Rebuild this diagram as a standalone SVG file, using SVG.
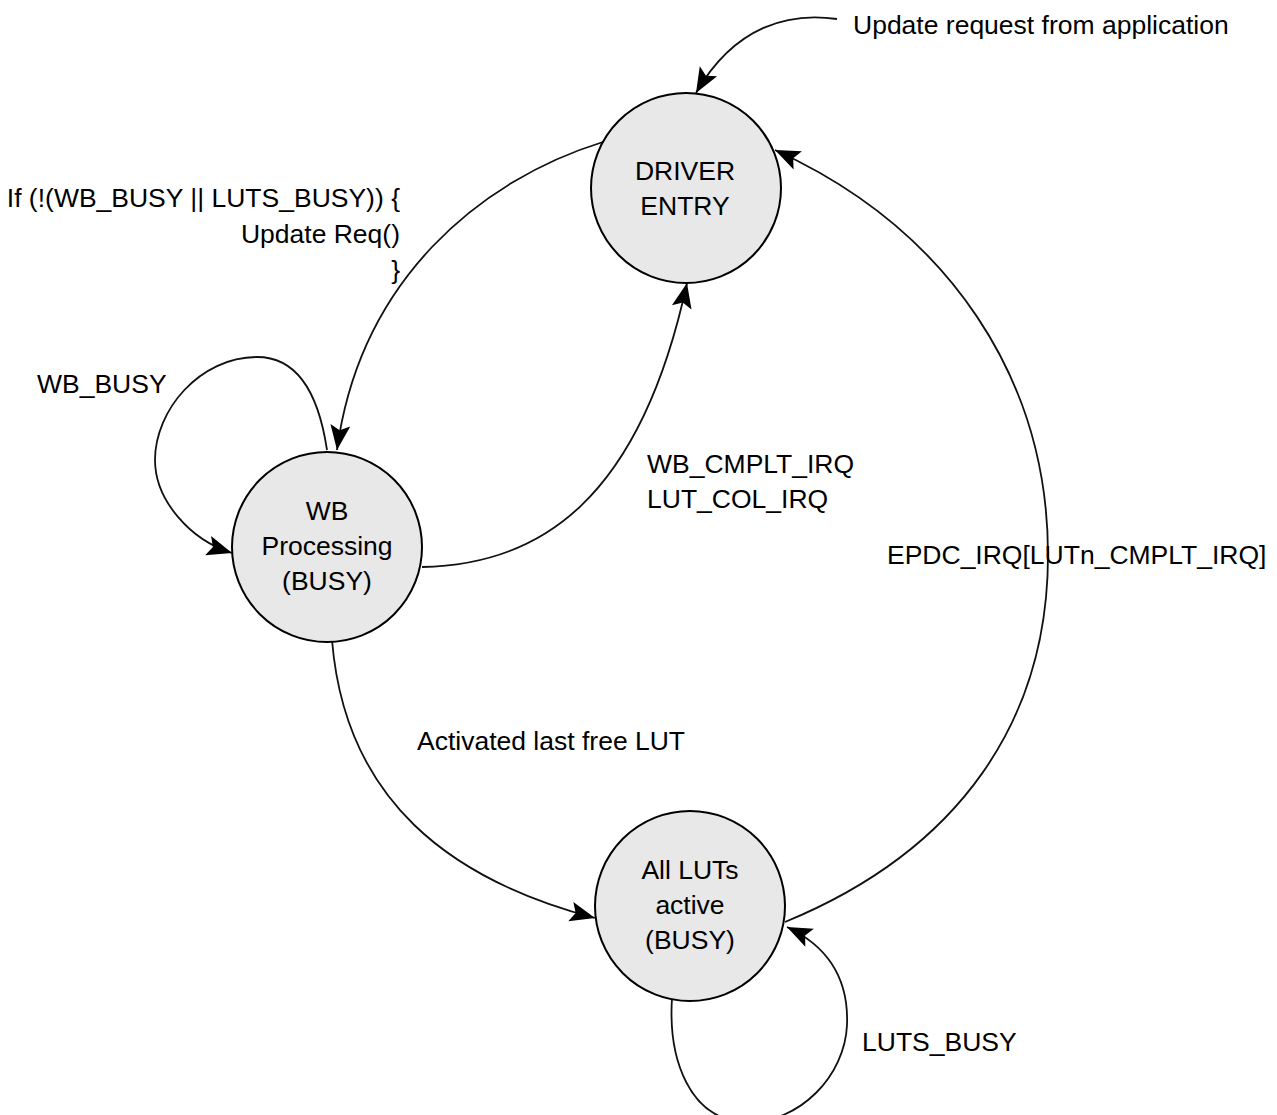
<svg xmlns="http://www.w3.org/2000/svg" width="1277" height="1115" viewBox="0 0 1277 1115">
<style>
  .node circle { fill: #e8e8e8; stroke: #000; stroke-width: 2; }
  .node text, .lbl { font-family: "Liberation Sans", Arial, Helvetica, sans-serif; font-size: 26.5px; fill: #000; }
  .node text { text-anchor: middle; }
  .edge { fill: none; stroke: #111; stroke-width: 1.8; marker-end: url(#arrow); }
</style>
<defs>
  <marker id="arrow" markerUnits="userSpaceOnUse" viewBox="-27 -12 29 24" refX="0" refY="0" markerWidth="29" markerHeight="24" orient="auto">
    <path d="M0,0 L-25,-10 L-20,0 L-25,10 Z" fill="#000"/>
  </marker>
</defs>
<rect width="1277" height="1115" fill="#fff"/>

<g id="connectors">
  <path class="edge" d="M837,19 C790,12 735,25 696,93"/>
  <path class="edge" d="M603,142 C480,180 360,280 337,450"/>
  <path class="edge" d="M327,450 C318,390 295,357 257,357 C200,357 155,410 155,460 C155,500 190,540 232,553"/>
  <path class="edge" d="M422,567 C540,565 640,500 687,283"/>
  <path class="edge" d="M332,640 C345,800 450,880 595,918"/>
  <path class="edge" d="M785,922 C960,850 1048,720 1048,555 C1048,380 950,230 775,150"/>
  <path class="edge" d="M672,998 C668,1060 690,1120 745,1122 C800,1124 845,1075 847,1025 C849,975 825,945 787,927"/>
</g>

<g id="labels">
  <text class="lbl" x="853" y="34">Update request from application</text>
  <text class="lbl" text-anchor="end" x="400" y="207">If (!(WB_BUSY || LUTS_BUSY)) {</text>
  <text class="lbl" text-anchor="end" x="400" y="243">Update Req()</text>
  <text class="lbl" text-anchor="end" x="400" y="279">}</text>
  <text class="lbl" x="37" y="393">WB_BUSY</text>
  <text class="lbl" x="647" y="473">WB_CMPLT_IRQ</text>
  <text class="lbl" x="647" y="508">LUT_COL_IRQ</text>
  <text class="lbl" x="887" y="564">EPDC_IRQ[LUTn_CMPLT_IRQ]</text>
  <text class="lbl" x="417" y="750">Activated last free LUT</text>
  <text class="lbl" x="862" y="1051">LUTS_BUSY</text>
</g>

<g id="node-driver-entry" class="node">
  <circle cx="686" cy="188" r="95"/>
  <text x="685" y="180">DRIVER</text>
  <text x="685" y="215">ENTRY</text>
</g>

<g id="node-wb-processing" class="node">
  <circle cx="327" cy="547" r="95"/>
  <text x="327" y="520">WB</text>
  <text x="327" y="555">Processing</text>
  <text x="327" y="590">(BUSY)</text>
</g>

<g id="node-all-luts-active" class="node">
  <circle cx="690" cy="906" r="95"/>
  <text x="690" y="879">All LUTs</text>
  <text x="690" y="914">active</text>
  <text x="690" y="949">(BUSY)</text>
</g>
</svg>
